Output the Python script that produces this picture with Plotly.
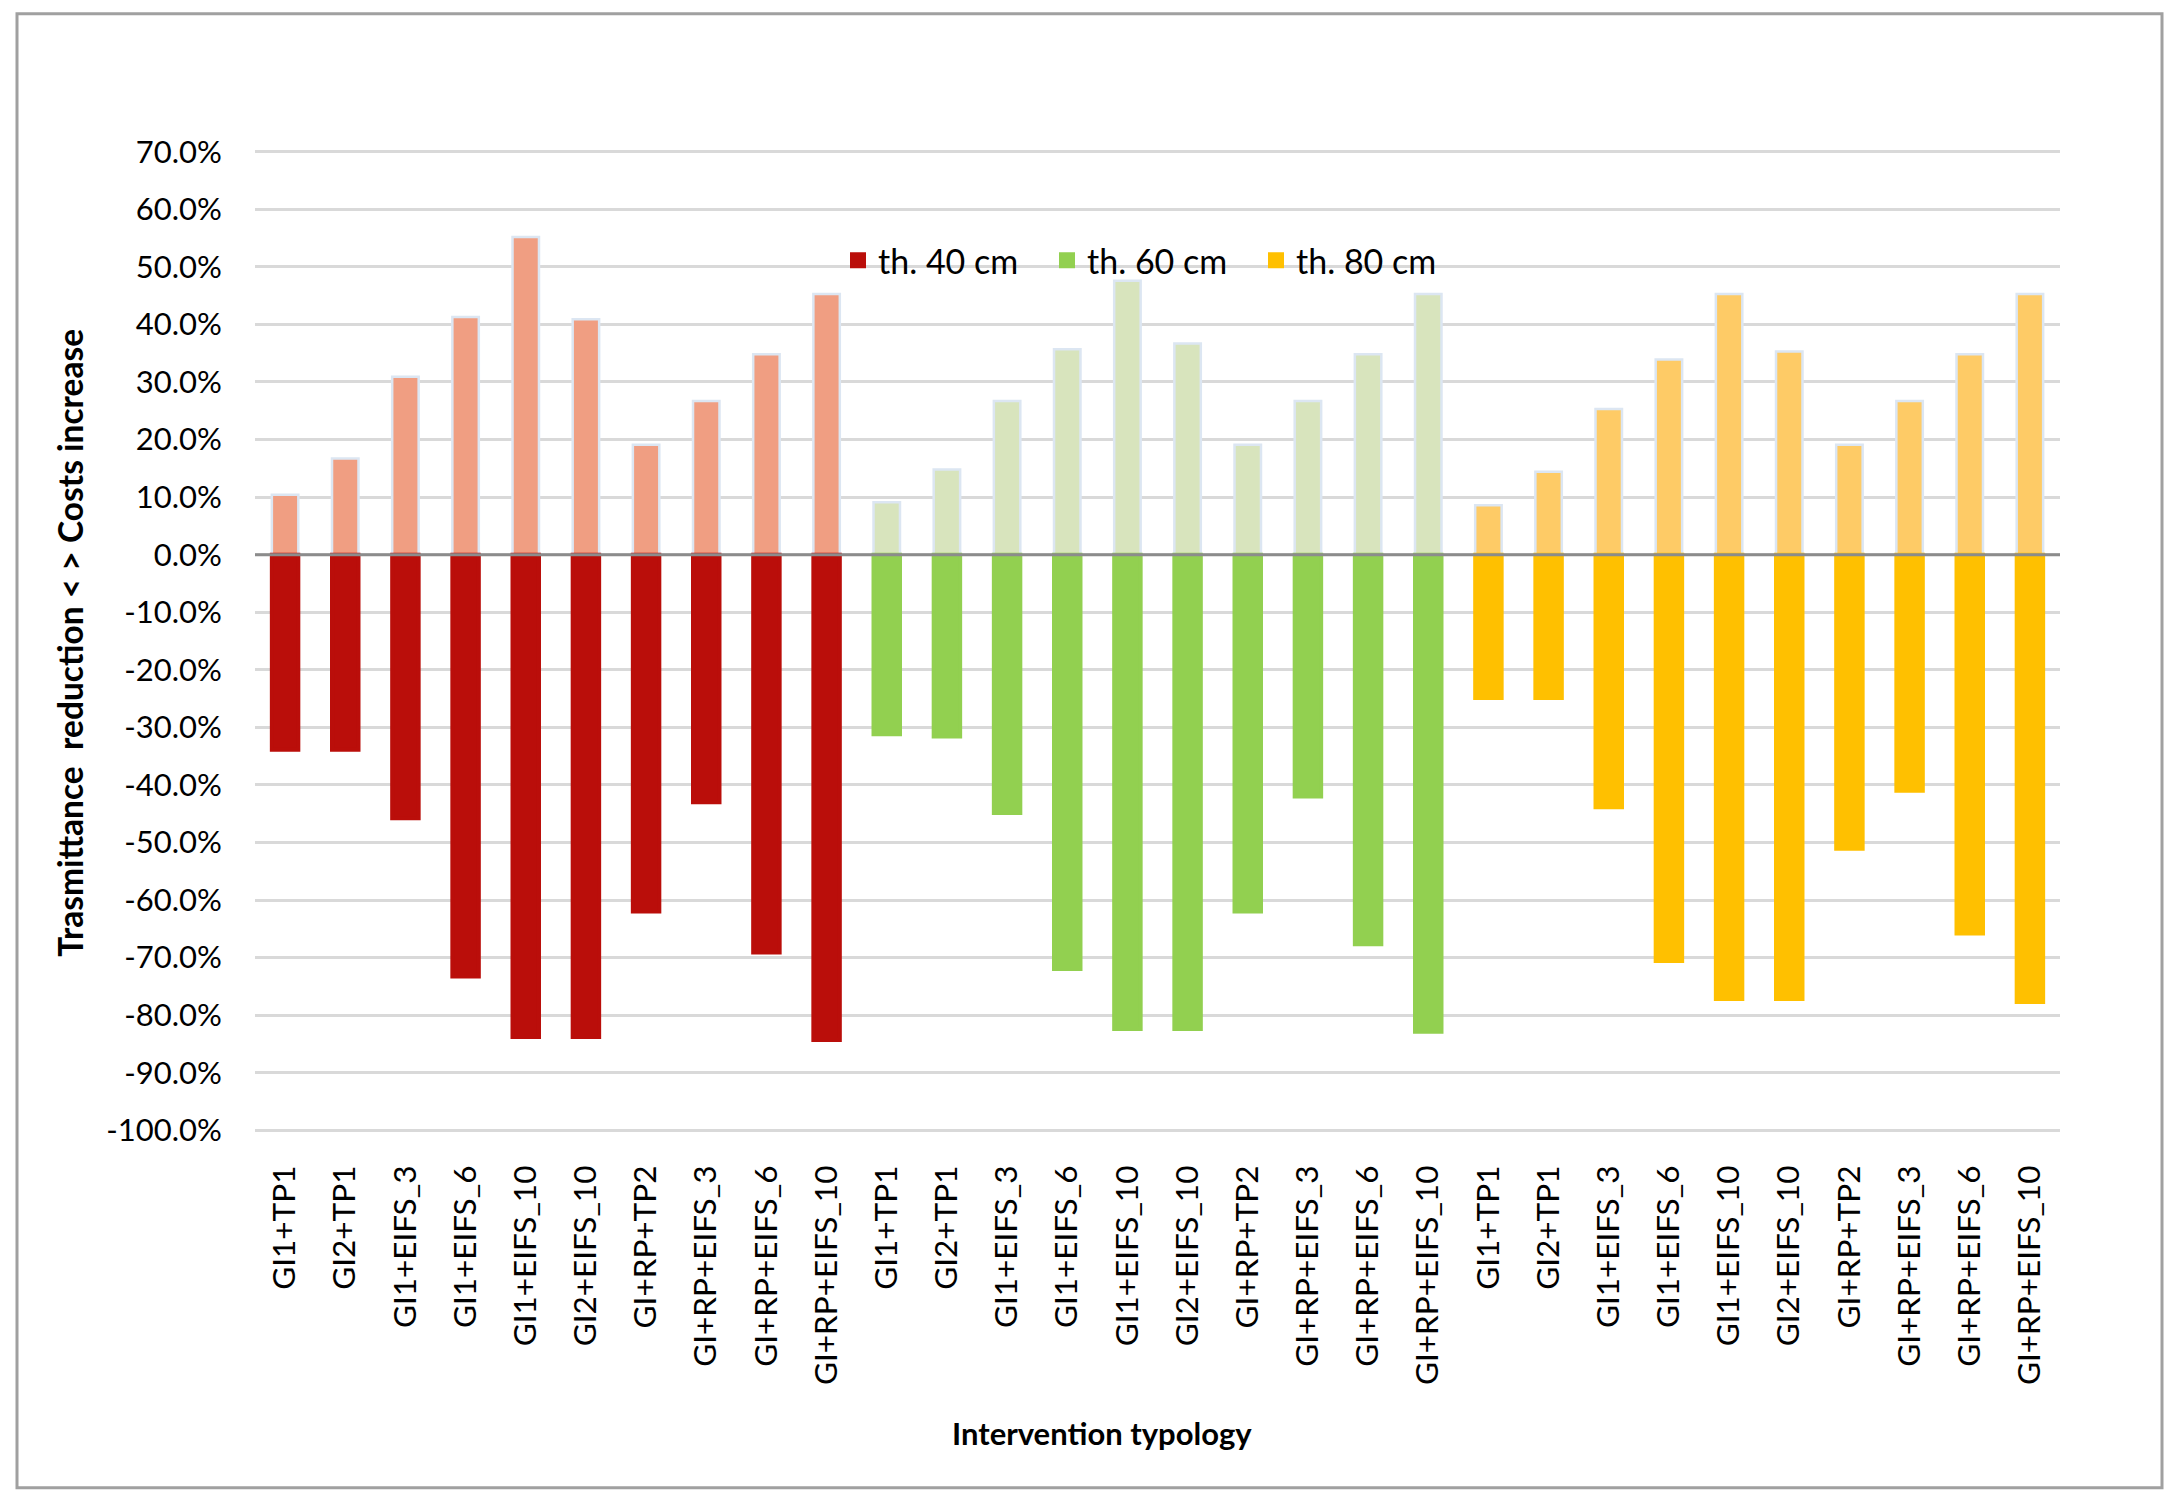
import plotly.graph_objects as go

# ---------------- data ----------------
categories = [
    "GI1+TP1", "GI2+TP1", "GI1+EIFS_3", "GI1+EIFS_6", "GI1+EIFS_10",
    "GI2+EIFS_10", "GI+RP+TP2", "GI+RP+EIFS_3", "GI+RP+EIFS_6", "GI+RP+EIFS_10",
]
groups = ["th. 40 cm", "th. 60 cm", "th. 80 cm"]

costs_40 = [0.104, 0.167, 0.309, 0.413, 0.552, 0.409, 0.191, 0.267, 0.348, 0.453]
costs_60 = [0.091, 0.148, 0.267, 0.357, 0.476, 0.367, 0.191, 0.267, 0.348, 0.453]
costs_80 = [0.086, 0.144, 0.253, 0.339, 0.453, 0.353, 0.191, 0.267, 0.348, 0.453]

trans_40 = [-0.339, -0.339, -0.458, -0.733, -0.838, -0.838, -0.620, -0.430, -0.691, -0.843]
trans_60 = [-0.312, -0.316, -0.449, -0.720, -0.824, -0.824, -0.620, -0.420, -0.677, -0.829]
trans_80 = [-0.249, -0.249, -0.439, -0.706, -0.772, -0.772, -0.511, -0.410, -0.658, -0.777]

y_tickvals = [0.7, 0.6, 0.5, 0.4, 0.3, 0.2, 0.1, 0.0, -0.1, -0.2, -0.3, -0.4, -0.5,
              -0.6, -0.7, -0.8, -0.9, -1.0]
y_ticktext = ["70.0%", "60.0%", "50.0%", "40.0%", "30.0%", "20.0%", "10.0%", "0.0%",
              "-10.0%", "-20.0%", "-30.0%", "-40.0%", "-50.0%", "-60.0%", "-70.0%",
              "-80.0%", "-90.0%", "-100.0%"]

y_title = "Trasmittance  reduction < > Costs increase"
x_title = "Intervention typology"

# ---------------- styling ----------------
dark_colors = ["#BA0E0A", "#92D050", "#FFC000"]
light_colors = ["#F09E82", "#D8E4BD", "#FECB66"]
outline_light = "#DCE6F2"
FONT = "Lato"
W, H = 2176, 1504
OFF = 8  # page body margin
Y_MIN, Y_MAX, Y_PAD = -1.0, 0.7, 0.003
L, R = 255 - OFF, 2060 - OFF          # plot area x in pixels
T, B = 152 - OFF, 1130.5 - OFF        # pixel rows of 70% and -100%
PX_PER_UNIT = (B - T) / (Y_MAX - Y_MIN)
T_ = T - Y_PAD * PX_PER_UNIT
B_ = B + Y_PAD * PX_PER_UNIT


def px_to_paper_x(px):
    return (px - OFF - L) / (R - L)


def px_to_paper_y(py):
    return (B_ - (py - OFF)) / (B_ - T_)


costs = [costs_40, costs_60, costs_80]
trans = [trans_40, trans_60, trans_80]

n = len(categories)
all_labels = categories * len(groups)
x_idx = list(range(n * len(groups)))

fig = go.Figure()
for g, name in enumerate(groups):
    xs = x_idx[g * n:(g + 1) * n]
    fig.add_trace(go.Bar(
        x=xs, y=costs[g], name=name + " costs", showlegend=False,
        width=0.44,
        marker=dict(color=light_colors[g], line=dict(color=outline_light, width=2.5)),
    ))
for g, name in enumerate(groups):
    xs = x_idx[g * n:(g + 1) * n]
    fig.add_trace(go.Bar(
        x=xs, y=trans[g], name=name, showlegend=True,
        width=0.44,
        marker=dict(color=dark_colors[g], line=dict(color=dark_colors[g], width=4)),
    ))

fig.update_layout(
    template="none",
    width=W, height=H,
    barmode="relative",
    paper_bgcolor="white", plot_bgcolor="white",
    margin=dict(l=L, r=W - R, t=T_, b=H - B_, pad=0),
    font=dict(family=FONT, size=31, color="black"),
    showlegend=True,
    legend=dict(
        orientation="h",
        x=px_to_paper_x(838), y=px_to_paper_y(261),
        xanchor="left", yanchor="middle",
        font=dict(family=FONT, size=34, color="black"),
        bgcolor="rgba(0,0,0,0)",
        traceorder="normal",
        entrywidth=164, entrywidthmode="pixels",
        itemclick=False,
    ),
    xaxis=dict(
        range=[-0.5, n * len(groups) - 0.5],
        tickmode="array", tickvals=x_idx, ticktext=all_labels,
        tickangle=-90,
        ticks="outside", ticklen=20, tickcolor="rgba(0,0,0,0)",
        showgrid=False, zeroline=False, showline=False,
        automargin=False,
        tickfont=dict(family=FONT, size=31.5, color="black"),
    ),
    yaxis=dict(
        range=[Y_MIN - Y_PAD, Y_MAX + Y_PAD],
        tickmode="array", tickvals=y_tickvals, ticktext=y_ticktext,
        ticks="outside", ticklen=26, tickcolor="rgba(0,0,0,0)",
        showgrid=True, gridcolor="#D9D9D9", gridwidth=2.5,
        zeroline=False, showline=False,
        automargin=False,
        tickfont=dict(family=FONT, size=31, color="black"),
    ),
    annotations=[
        dict(text="<b>" + y_title + "</b>", xref="paper", yref="paper",
             x=px_to_paper_x(70), y=px_to_paper_y(643), textangle=-90, showarrow=False,
             xanchor="center", yanchor="middle",
             font=dict(family=FONT, size=33.5, color="black")),
        dict(text="<b>" + x_title + "</b>", xref="paper", yref="paper",
             x=px_to_paper_x(1102), y=px_to_paper_y(1433), showarrow=False,
             xanchor="center", yanchor="middle",
             font=dict(family=FONT, size=31, color="black")),
    ],
    shapes=[
        dict(type="line", xref="paper", yref="y", x0=0, x1=1, y0=0, y1=0,
             line=dict(color="#8C8C8C", width=3), layer="above"),
        dict(type="rect", xref="paper", yref="paper",
             x0=px_to_paper_x(17), x1=px_to_paper_x(2162),
             y0=px_to_paper_y(1488), y1=px_to_paper_y(14),
             line=dict(color="#A0A0A0", width=3), fillcolor="rgba(0,0,0,0)",
             layer="below"),
    ],
)

fig.write_html("out.html")
